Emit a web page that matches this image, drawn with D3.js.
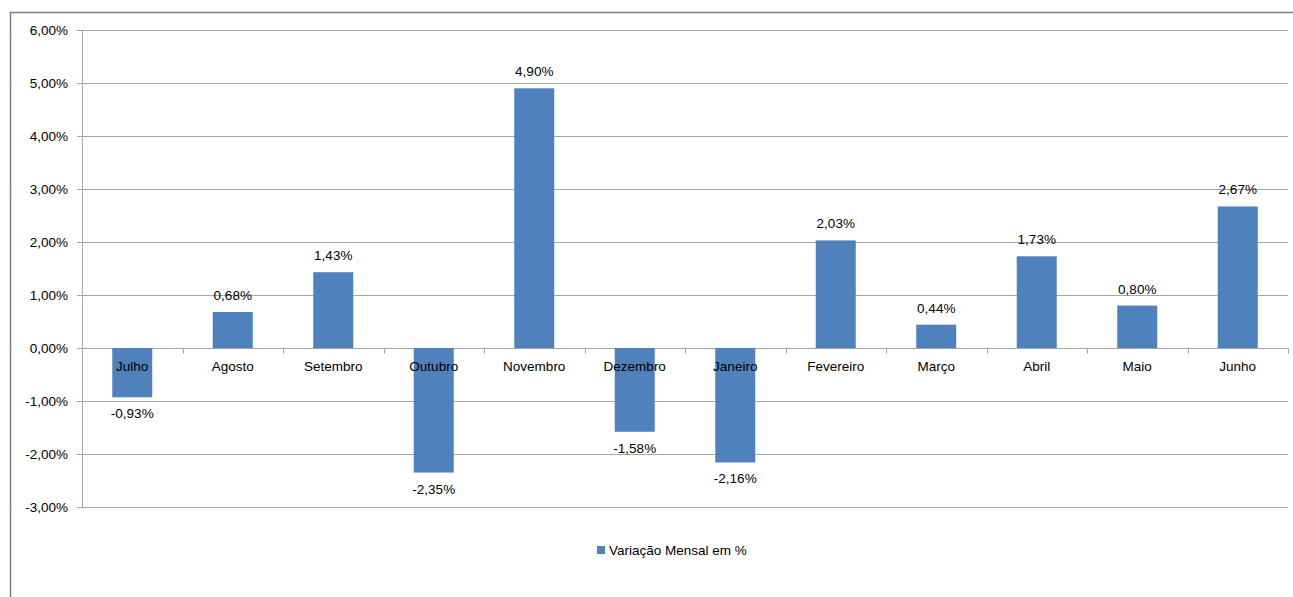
<!DOCTYPE html>
<html>
<head>
<meta charset="utf-8">
<script src="https://cdn.jsdelivr.net/npm/d3@7"></script>
<style>
  body { margin: 0; background: #fff; }
  text { font-family: "Liberation Sans", Arial, sans-serif; fill: #000; }
</style>
</head>
<body>
<div id="app"></div>
<script>
var months = ["Julho", "Agosto", "Setembro", "Outubro", "Novembro", "Dezembro",
              "Janeiro", "Fevereiro", "Março", "Abril", "Maio", "Junho"];
var values = [-0.93, 0.68, 1.43, -2.35, 4.90, -1.58, -2.16, 2.03, 0.44, 1.73, 0.80, 2.67];
var yTicks = [-3, -2, -1, 0, 1, 2, 3, 4, 5, 6];
var seriesName = "Variação Mensal em %";

var chartW = 1293, chartH = 597;
var plotL = 82, plotR = 1288, plotT = 30, plotB = 507;
var barW = 40;
var fontSize = 13.5;

var fmt = function (v) {
    return v.toFixed(2).replace(".", ",") + "%";
};

var svg = d3.select("#app").append("svg")
    .attr("width", chartW)
    .attr("height", chartH);

// outer chart border
svg.append("rect")
    .attr("x", 10.5)
    .attr("y", 12.5)
    .attr("width", chartW)
    .attr("height", chartH)
    .style("fill", "none")
    .style("stroke", "#7f7f7f")
    .style("stroke-width", 1.5);

var x = d3.scaleBand()
    .domain(months)
    .range([plotL, plotR]);

var y = d3.scaleLinear()
    .domain([-3, 6])
    .range([plotB, plotT]);

// gridlines + y ticks
svg.selectAll(".grid")
    .data(yTicks)
    .enter()
    .append("line")
    .attr("x1", plotL - 5)
    .attr("x2", plotR)
    .attr("y1", function (d) { return Math.round(y(d)) + 0.5; })
    .attr("y2", function (d) { return Math.round(y(d)) + 0.5; })
    .style("stroke", "#a6a6a6")
    .style("stroke-width", 1);

// y axis line
svg.append("line")
    .attr("x1", plotL + 0.5)
    .attr("x2", plotL + 0.5)
    .attr("y1", plotT)
    .attr("y2", plotB)
    .style("stroke", "#a6a6a6");

// y labels
svg.selectAll(".ylab")
    .data(yTicks)
    .enter()
    .append("text")
    .attr("x", plotL - 14)
    .attr("y", function (d) { return y(d); })
    .attr("dy", "0.35em")
    .attr("text-anchor", "end")
    .style("font-size", fontSize + "px")
    .text(fmt);

// BARS
svg.selectAll(".bar")
    .data(values)
    .enter()
    .append("rect")
    .attr("x", function (d, i) { return x(months[i]) + x.bandwidth() / 2 - barW / 2; })
    .attr("y", function (d) { return y(Math.max(0, d)); })
    .attr("width", barW)
    .attr("height", function (d) { return Math.abs(y(d) - y(0)); })
    .style("fill", "#4f81bd");

// category ticks on zero line
var y0 = Math.round(y(0)) + 0.5;
svg.selectAll(".ctick")
    .data(months.concat(["end"]))
    .enter()
    .append("line")
    .attr("x1", function (d, i) { return Math.round(plotL + i * x.bandwidth()) + 0.5; })
    .attr("x2", function (d, i) { return Math.round(plotL + i * x.bandwidth()) + 0.5; })
    .attr("y1", y0)
    .attr("y2", y0 + 5)
    .style("stroke", "#a6a6a6");

// category labels
svg.selectAll(".clab")
    .data(months)
    .enter()
    .append("text")
    .attr("x", function (d) { return x(d) + x.bandwidth() / 2; })
    .attr("y", y(0) + 23)
    .attr("text-anchor", "middle")
    .style("font-size", fontSize + "px")
    .text(function (d) { return d; });

// value labels
svg.selectAll(".vlab")
    .data(values)
    .enter()
    .append("text")
    .attr("x", function (d, i) { return x(months[i]) + x.bandwidth() / 2; })
    .attr("y", function (d) { return d >= 0 ? y(d) - 12 : y(d) + 21; })
    .attr("text-anchor", "middle")
    .style("font-size", fontSize + "px")
    .text(fmt);

// LEGEND
var legend = svg.append("g").attr("transform", "translate(597,546)");
legend.append("rect")
    .attr("width", 8)
    .attr("height", 8)
    .style("fill", "#4f81bd");
legend.append("text")
    .attr("x", 12)
    .attr("y", 9)
    .style("font-size", fontSize + "px")
    .text(seriesName);
</script>
</body>
</html>
